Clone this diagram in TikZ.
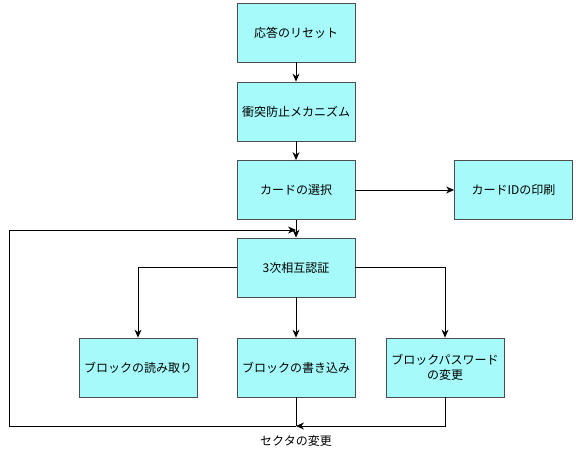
\documentclass[tikz,border=0pt]{standalone}
\usepackage{fontspec}
\setmainfont{Noto Sans CJK JP}
\usetikzlibrary{arrows.meta, positioning, calc}
\definecolor{boxfill}{HTML}{A6FAFA}
\definecolor{boxline}{HTML}{4D4D4D}

\begin{document}
\begin{tikzpicture}[x=1pt, y=-1pt, font=\fontsize{12}{15}\selectfont,
    stage/.style={draw=boxline, fill=boxfill, line width=0.8pt,
                  minimum width=118pt, minimum height=59pt, inner sep=2pt,
                  align=center},
    flow/.style={-{Stealth[length=8pt, width=7pt]}, line width=0.8pt},
    link/.style={line width=0.8pt}]
  \useasboundingbox (0,0) rectangle (576,455);
  \node[stage] (reset)    at (296,32.5)   {応答のリセット};
  \node[stage] (anticoll) at (296,111.5)  {衝突防止メカニズム};
  \node[stage] (select)   at (296,190)    {カードの選択};
  \node[stage] (printid)  at (513.5,190)  {カードIDの印刷};
  \node[stage] (auth)     at (296,267.5)  {3次相互認証};
  \node[stage] (readblk)  at (138,367.5)  {ブロックの読み取り};
  \node[stage] (writeblk) at (296,367.5)  {ブロックの書き込み};
  \node[stage] (changepw) at (445,367.5)  {ブロックパスワード\\の変更};
  \node (sector) at (296,441) {セクタの変更};
  \coordinate (join)    at (296,426);
  \coordinate (loopin)  at (296,230);
  \coordinate (lowleft) at (9,426);
  \coordinate (upleft)  at (9,230);
  \draw[flow] (reset) -- (anticoll);
  \draw[flow] (anticoll) -- (select);
  \draw[flow] (select) -- (auth);
  \draw[flow] (select) -- (printid);
  \draw[flow] (auth.west) -| (readblk.north);
  \draw[flow] (auth) -- (writeblk);
  \draw[flow] (auth.east) -| (changepw.north);
  \draw[link] (writeblk) -- (join);
  \draw[flow] (changepw.south) |- (join);
  \draw[flow] (join) -- (lowleft) -- (upleft) -- (loopin);
\end{tikzpicture}
\end{document}
